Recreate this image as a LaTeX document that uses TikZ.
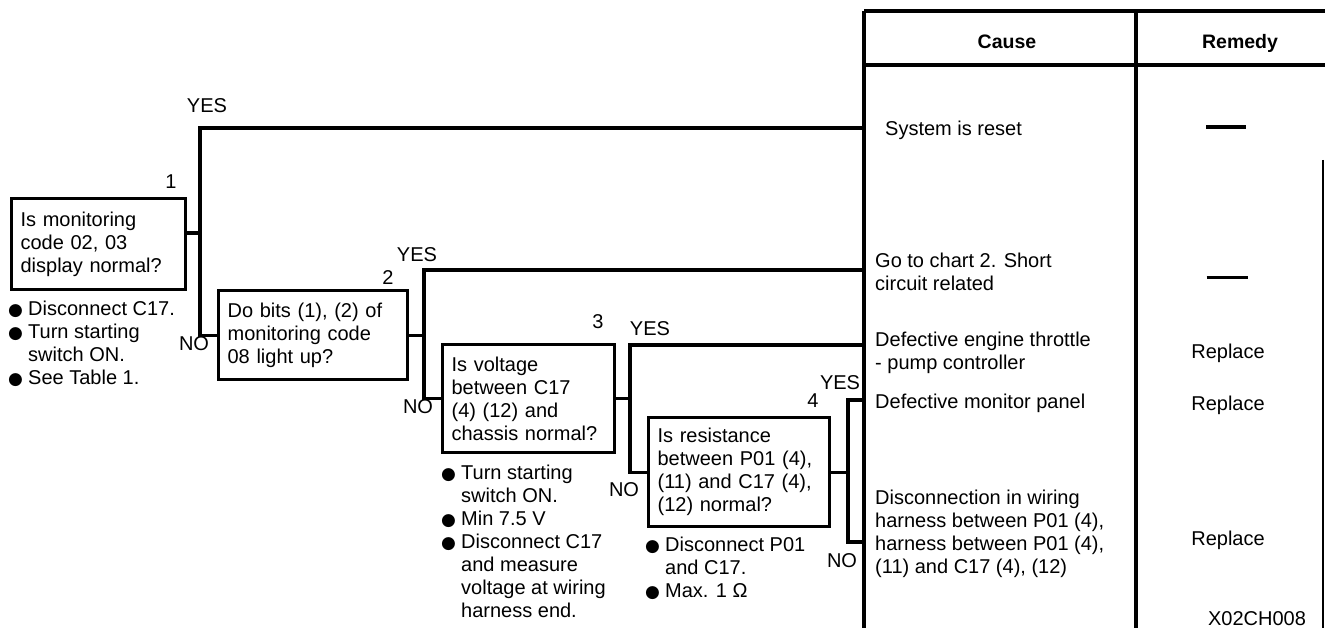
\documentclass[tikz,border=0pt]{standalone}
\usepackage{fontspec}
\setmainfont{Liberation Sans}
\newfontfamily\dejavu{DejaVu Sans}
\newcommand{\bul}{\makebox[20pt][l]{\dejavu\fontsize{17}{17}\selectfont ●}}
\newcommand{\ind}{\hspace*{20pt}}
\begin{document}
\begin{tikzpicture}[x=1pt,y=-1pt,
  every node/.style={font=\fontsize{20}{23}\selectfont, inner sep=0pt},
  qbox/.style={draw, line width=3.2pt, align=left, inner xsep=9pt, inner ysep=0pt, anchor=north west},
  conn/.style={line width=3.2pt},
  rule/.style={line width=3.2pt},
  thinrule/.style={line width=1.4pt},
  lbl/.style={anchor=center},
  note/.style={align=left, anchor=north west},
  cell/.style={align=left, anchor=north west},
  head/.style={font=\fontsize{19.5}{22}\selectfont\bfseries, anchor=center},
  remedy/.style={anchor=base},
]
\useasboundingbox (0,0) rectangle (1325,628);

% ---- table grid ----
\draw[rule] (864,11) -- (1325,11);
\draw[rule] (864,65) -- (1325,65);
\draw[rule] (864,11) -- (864,628);
\draw[rule] (1136,11) -- (1136,628);
\draw[thinrule] (1323,160) -- (1323,628);

\node[head] (hcause) at (1007,42) {Cause};
\node[head] (hremedy) at (1240,43) {Remedy};

% ---- cause cells ----
\node[anchor=base west] (c1) at (885,136) {System is reset};
\node[cell] (c2) at (875,253) {Go to chart 2. Short\\circuit related};
\node[cell] (c3) at (875,332) {Defective engine throttle\\- pump controller};
\node[anchor=base west] (c4) at (875,408) {Defective monitor panel};
\node[cell] (c5) at (875,490) {Disconnection in wiring\\harness between P01 (4),\\harness between P01 (4),\\(11) and C17 (4), (12)};

% ---- remedy cells ----
\node[anchor=center] (r1) at (1226,127) {\rule{40pt}{4pt}};
\node[anchor=center] (r2) at (1227,278) {\rule{41pt}{3pt}};
\node[remedy] (r3) at (1228,358) {Replace};
\node[remedy] (r4) at (1228,410) {Replace};
\node[remedy] (r5) at (1228,545) {Replace};
\node[remedy] (code) at (1257,625) {X02CH008};

% ---- question boxes ----
\node[qbox, text width=156pt, minimum width=174pt, minimum height=91pt] (b1) at (10,197)
  {Is monitoring\\code 02, 03\\display normal?};
\node[qbox, text width=171pt, minimum width=189pt, minimum height=89pt] (b2) at (217,289)
  {Do bits (1), (2) of\\monitoring code\\08 light up?};
\node[qbox, text width=154pt, minimum width=172pt, minimum height=108pt] (b3) at (441,343)
  {Is voltage\\between C17\\(4) (12) and\\chassis normal?};
\node[qbox, text width=163pt, minimum width=181pt, minimum height=109pt] (b4) at (647,416)
  {Is resistance\\between P01 (4),\\(11) and C17 (4),\\(12) normal?};

% ---- step numbers ----
\node[lbl] (n1) at (171,182) {1};
\node[lbl] (n2) at (388,278) {2};
\node[lbl] (n3) at (598,322) {3};
\node[lbl] (n4) at (813,401) {4};

% ---- notes ----
\node[note] (note1) at (8,301) {\bul Disconnect C17.\\\bul Turn starting\\\ind switch ON.\\\bul See Table 1.};
\node[note] (note3) at (441,465) {\bul Turn starting\\\ind switch ON.\\\bul Min 7.5 V\\\bul Disconnect C17\\\ind and measure\\\ind voltage at wiring\\\ind harness end.};
\node[note] (note4) at (645,537) {\bul Disconnect P01\\\ind and C17.\\\bul Max. 1 Ω};

% ---- connector coordinates ----
\coordinate (j1) at (200,233);
\coordinate (v1t) at (200,128);
\coordinate (t1) at (864,128);
\coordinate (v2t) at (424,270);
\coordinate (t2) at (864,270);
\coordinate (v3t) at (630,345);
\coordinate (t3) at (864,345);
\coordinate (v4t) at (848,400);
\coordinate (t4) at (864,400);
\coordinate (v4b) at (848,542);
\coordinate (t5) at (864,542);

% ---- connectors ----
\draw[conn] (b1.east |- j1) -- (j1);
\draw[conn] (t1) -- (v1t) |- (b2.west);
\draw[conn] (b2.east) -- (v2t |- b2.east);
\draw[conn] (t2) -- (v2t) |- (b3.west);
\draw[conn] (b3.east) -- (v3t |- b3.east);
\draw[conn] (t3) -- (v3t) |- (b4.west);
\draw[conn] (b4.east) -- (v4t |- b4.east);
\draw[conn] (t4) -- (v4t) -- (v4b) -- (t5);

% ---- YES / NO labels ----
\node[lbl] (y1) at (207,106) {YES};
\node[lbl] (no1) at (194,344) {NO};
\node[lbl] (y2) at (417,255) {YES};
\node[lbl] (no2) at (418,407) {NO};
\node[lbl] (y3) at (650,329) {YES};
\node[lbl] (no3) at (624,490) {NO};
\node[lbl] (y4) at (840,383) {YES};
\node[lbl] (no4) at (842,561) {NO};
\end{tikzpicture}
\end{document}
